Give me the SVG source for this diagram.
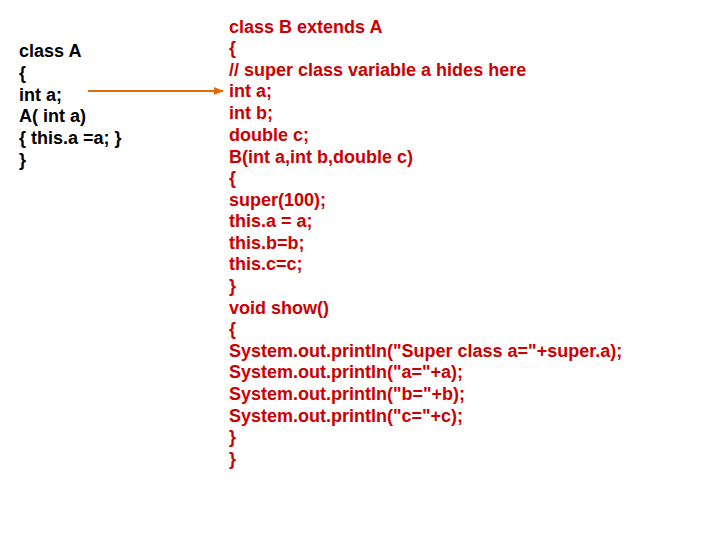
<svg xmlns="http://www.w3.org/2000/svg" width="720" height="540" viewBox="0 0 720 540">
<style>
text{font-family:"Liberation Sans",Arial,sans-serif;font-size:18px;font-weight:bold}
.l{fill:#000}.r{fill:#cc0000}
</style>
<defs><marker id="ah" markerWidth="10" markerHeight="10" refX="9" refY="5" orient="auto" markerUnits="userSpaceOnUse"><path d="M0,1 L10,5 L0,9 Z" fill="#e36c0a"/></marker></defs>
<rect width="720" height="540" fill="#fff"/>
<g id="classA" class="l">
<text x="19" y="57">class A</text><text x="19" y="79">{</text><text x="19" y="101">int a;</text><text x="19" y="122">A( int a)</text><text x="19" y="144">{ this.a =a; }</text><text x="19" y="166">}</text>
</g>
<g id="connectors"><line x1="88" y1="91" x2="223" y2="91" stroke="#e36c0a" stroke-width="2" marker-end="url(#ah)"/></g>
<g id="classB" class="r">
<text x="229" y="33">class B extends A</text>
<text x="229" y="54">{</text>
<text x="229" y="76">// super class variable a hides here</text>
<text x="229" y="97">int a;</text>
<text x="229" y="119">int b;</text>
<text x="229" y="141">double c;</text>
<text x="229" y="163">B(int a,int b,double c)</text>
<text x="229" y="184">{</text>
<text x="229" y="206">super(100);</text>
<text x="229" y="227">this.a = a;</text>
<text x="229" y="249">this.b=b;</text>
<text x="229" y="270">this.c=c;</text>
<text x="229" y="292">}</text>
<text x="229" y="314">void show()</text>
<text x="229" y="335">{</text>
<text x="229" y="357">System.out.println("Super class a="+super.a);</text>
<text x="229" y="378">System.out.println("a="+a);</text>
<text x="229" y="400">System.out.println("b="+b);</text>
<text x="229" y="422">System.out.println("c="+c);</text>
<text x="229" y="443">}</text>
<text x="229" y="465">}</text>
</g>
</svg>
